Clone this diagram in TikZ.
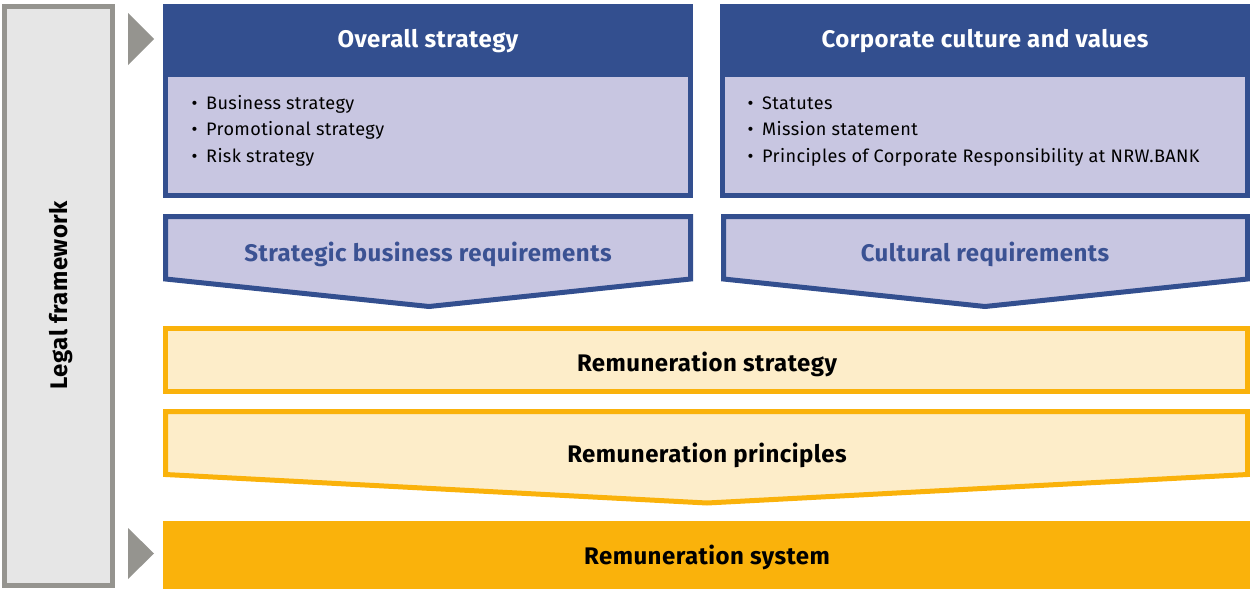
\documentclass[tikz,border=0pt]{standalone}
\usepackage{fontspec}
\setmainfont[LetterSpace=2]{Fira Sans}
\definecolor{hblue}{HTML}{334F8F}
\definecolor{lav}{HTML}{C8C6E1}
\definecolor{tblue}{HTML}{3B5293}
\definecolor{lyel}{HTML}{FDEDC9}
\definecolor{oran}{HTML}{FAB20B}
\definecolor{gbord}{HTML}{95948F}
\definecolor{lgray}{HTML}{E6E6E6}
\newcommand{\bul}{\makebox[14.5pt][l]{•}}
\tikzset{
  lavbox/.style={fill=lav,draw=hblue,line width=5pt,line join=miter},
  yelbox/.style={fill=lyel,draw=oran,line width=5pt,line join=miter},
  bigfont/.style={font=\fontsize{24}{28}\selectfont\bfseries,inner sep=0pt},
  headtxt/.style={bigfont,text=white},
  reqtxt/.style={bigfont,text=tblue},
  remtxt/.style={bigfont,text=black},
  bultxt/.style={text=black,font=\fontsize{18.1}{22}\selectfont,anchor=base west,inner sep=0pt},
  marker/.style={fill=gbord,draw=none}
}
\begin{document}
\begin{tikzpicture}[x=1pt,y=-1pt]
\useasboundingbox (0,0) rectangle (1250,589);
% legal framework
\draw[fill=lgray,draw=gbord,line width=5pt] (4.5,6.5) rectangle (112.5,585.5);
\node[rotate=90,bigfont,text=black] (legal) at (61,295) {Legal framework};
\fill[marker] (128,13) -- (154,39) -- (128,65) -- cycle;
\fill[marker] (128,528) -- (154,553.5) -- (128,579) -- cycle;
% overall strategy
\fill[hblue] (163,4) rectangle (693,77);
\draw[lavbox] (165.5,77) -- (165.5,195.5) -- (690.5,195.5) -- (690.5,77);
\node[headtxt] (os) at (428,41) {Overall strategy};
\node[bultxt] (os1) at (191.5,109) {\bul Business strategy};
\node[bultxt] (os2) at (191.5,135.5) {\bul Promotional strategy};
\node[bultxt] (os3) at (191.5,162) {\bul Risk strategy};
% corporate culture
\fill[hblue] (720,4) rectangle (1250,77);
\draw[lavbox] (722.5,77) -- (722.5,195.5) -- (1247.5,195.5) -- (1247.5,77);
\node[headtxt] (cc) at (985,41) {Corporate culture and values};
\node[bultxt] (cc1) at (747.5,109) {\bul Statutes};
\node[bultxt] (cc2) at (747.5,135.5) {\bul Mission statement};
\node[bultxt] (cc3) at (747.5,162) {\bul Principles of Corporate Responsibility at NRW.BANK};
% requirement arrows
\draw[lavbox] (165.5,216.5) -- (690.5,216.5) -- (690.5,279) -- (429,306.5) -- (165.5,279) -- cycle;
\node[reqtxt] (sbr) at (428,254) {Strategic business requirements};
\draw[lavbox] (723.5,216.5) -- (1247.5,216.5) -- (1247.5,279) -- (985,306.5) -- (723.5,279) -- cycle;
\node[reqtxt] (cr) at (985,254) {Cultural requirements};
% remuneration
\draw[yelbox] (165.5,328.5) rectangle (1247.5,391.5);
\node[remtxt] (rs) at (707,364) {Remuneration strategy};
\draw[yelbox] (165.5,411.5) -- (1247.5,411.5) -- (1247.5,474.5) -- (707,503) -- (165.5,474.5) -- cycle;
\node[remtxt] (rp) at (707,455) {Remuneration principles};
\fill[oran] (163,521) rectangle (1250,589);
\node[remtxt] (rsys) at (707,557) {Remuneration system};
\end{tikzpicture}
\end{document}
